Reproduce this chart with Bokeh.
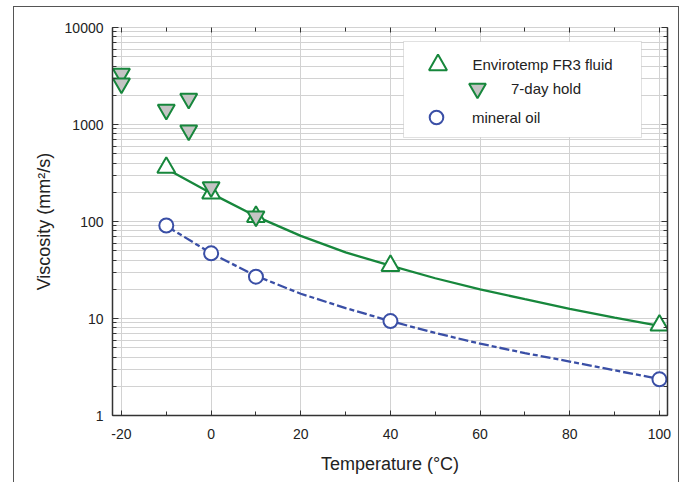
from bokeh.plotting import figure
from bokeh.models import (LinearAxis, LogAxis, FixedTicker, LogTicker, NumeralTickFormatter,
                          Legend, LegendItem, BoxAnnotation, Range1d)
from bokeh.embed import file_html
from bokeh.resources import INLINE

# ---- data ----
temp_fr3 = [-10, 0, 10, 40, 100]
visc_fr3 = [360, 195, 112, 35, 8.5]

temp_hold = [-20, -20, -10, -5, -5, 0, 10]
visc_hold = [3350, 2650, 1420, 1850, 870, 226, 113]

temp_oil = [-10, 0, 10, 40, 100]
visc_oil = [91, 47, 27, 9.4, 2.36]

fit_temp_fr3 = [-10, 0, 10, 20, 30, 40, 50, 60, 70, 80, 90, 100, 101.8]
fit_visc_fr3 = [350, 195, 113, 71, 48, 35, 26, 20, 15.8, 12.6, 10.2, 8.4, 8.15]

fit_temp_oil = [-10, 0, 10, 20, 30, 40, 50, 60, 70, 80, 90, 100]
fit_visc_oil = [90, 47, 27.5, 18, 12.8, 9.4, 7.1, 5.5, 4.4, 3.6, 2.92, 2.38]

x_ticks = [-20, 0, 20, 40, 60, 80, 100]
x_minor = [-10, 10, 30, 50, 70, 90]
y_ticks = [1, 10, 100, 1000, 10000]

GREEN = "#17873c"
BLUE = "#3a4fa6"
FONT = "Liberation Sans"
TXT = "#222222"
GRID = "#d2d2d2"

p = figure(width=666, height=480, x_range=Range1d(-22, 101.8), y_range=Range1d(1, 10000),
           y_axis_type="log", output_backend="svg", toolbar_location=None,
           min_border_left=98, min_border_right=13, min_border_top=20, min_border_bottom=72,
           margin=(6, 0, 0, 13),
           styles={"border": "1.5px solid #555555"})
p.outline_line_color = None
p.background_fill_color = "white"
p.border_fill_color = "white"

# grids
p.xgrid.ticker = FixedTicker(ticks=x_ticks)
p.xgrid.grid_line_color = GRID
p.ygrid.grid_line_color = GRID
p.ygrid.minor_grid_line_color = GRID

# bottom axis
xa = p.below[0]
xa.ticker = FixedTicker(ticks=x_ticks, minor_ticks=x_minor)
xa.major_label_overrides = {t: str(t) for t in x_ticks}
xa.axis_label = "Temperature (°C)"
xa.axis_label_text_font = FONT
xa.axis_label_text_font_style = "normal"
xa.axis_label_text_font_size = "18px"
xa.axis_label_text_color = TXT
xa.axis_label_standoff = 12
xa.major_label_text_font = FONT
xa.major_label_text_font_size = "14px"
xa.major_label_text_color = TXT
xa.major_label_standoff = 13
xa.major_tick_in = 5
xa.major_tick_out = 0
xa.minor_tick_in = 4
xa.minor_tick_out = 0
xa.axis_line_color = "#333333"
xa.major_tick_line_color = "#333333"
xa.minor_tick_line_color = "#333333"
xa.axis_line_width = 1.5

# left axis
ya = p.left[0]
ya.formatter = NumeralTickFormatter(format="0")
ya.axis_label = "Viscosity (mm²/s)"
ya.axis_label_text_font = FONT
ya.axis_label_text_font_style = "normal"
ya.axis_label_text_font_size = "18px"
ya.axis_label_text_color = TXT
ya.axis_label_standoff = 8
ya.major_label_text_font = FONT
ya.major_label_text_font_size = "14px"
ya.major_label_text_color = TXT
ya.major_label_standoff = 9
ya.major_tick_in = 6
ya.major_tick_out = 0
ya.minor_tick_in = 4
ya.minor_tick_out = 0
ya.axis_line_color = "#333333"
ya.major_tick_line_color = "#333333"
ya.minor_tick_line_color = "#333333"
ya.axis_line_width = 1.5

# top axis (ticks only)
ta = LinearAxis(ticker=FixedTicker(ticks=x_ticks, minor_ticks=x_minor))
ta.major_label_overrides = {t: "" for t in x_ticks}
ta.major_label_standoff = 0
ta.major_tick_in = 5
ta.major_tick_out = 0
ta.minor_tick_in = 4
ta.minor_tick_out = 0
ta.axis_line_color = GRID
ta.major_tick_line_color = "#333333"
ta.minor_tick_line_color = "#333333"
p.add_layout(ta, "above")

# right axis (ticks only)
ra = LogAxis(ticker=LogTicker())
ra.major_label_overrides = {t: "" for t in y_ticks}
ra.major_label_standoff = 0
ra.major_tick_in = 6
ra.major_tick_out = 0
ra.minor_tick_in = 4
ra.minor_tick_out = 0
ra.axis_line_color = "#333333"
ra.axis_line_width = 1.5
ra.major_tick_line_color = "#333333"
ra.minor_tick_line_color = "#333333"
p.add_layout(ra, "right")

# curves
p.line(fit_temp_fr3, fit_visc_fr3, line_color=GREEN, line_width=2.3)
p.line(fit_temp_oil, fit_visc_oil, line_color=BLUE, line_width=2.3, line_dash="10 3 5 3")

# markers
r_fr3 = p.scatter(temp_fr3, visc_fr3, marker="triangle", size=18, fill_color="white",
                  line_color=GREEN, line_width=2)
r_oil = p.scatter(temp_oil, visc_oil, marker="circle", size=14, fill_color="white",
                  line_color=BLUE, line_width=2)
r_hold = p.scatter(temp_hold, visc_hold, marker="inverted_triangle", size=17, fill_color="#c4c4c4",
                   line_color=GREEN, line_width=2)

# legend frame
p.add_layout(BoxAnnotation(left=291, right=529, top=374, bottom=278,
                           left_units="screen", right_units="screen",
                           top_units="screen", bottom_units="screen",
                           fill_color="white", fill_alpha=1,
                           line_color="#9a9a9a", line_width=1, level="annotation"))


def add_legend(label, rend, vx, vy, g, standoff):
    lg = Legend(items=[LegendItem(label=label, renderers=[rend])], location=(vx, vy),
                glyph_width=g, glyph_height=g, label_standoff=standoff, padding=0, margin=0,
                spacing=0, border_line_color=None, background_fill_alpha=0,
                label_text_font=FONT, label_text_font_size="15px", label_text_color=TXT)
    p.add_layout(lg)


add_legend("Envirotemp FR3 fluid", r_fr3, 302.5, 328.5, 45, 13)
add_legend("7-day hold", r_hold, 344, 306, 42, 13)
add_legend("mineral oil", r_oil, 307, 281, 34, 19)

open("out.html", "w").write(file_html(p, INLINE))
